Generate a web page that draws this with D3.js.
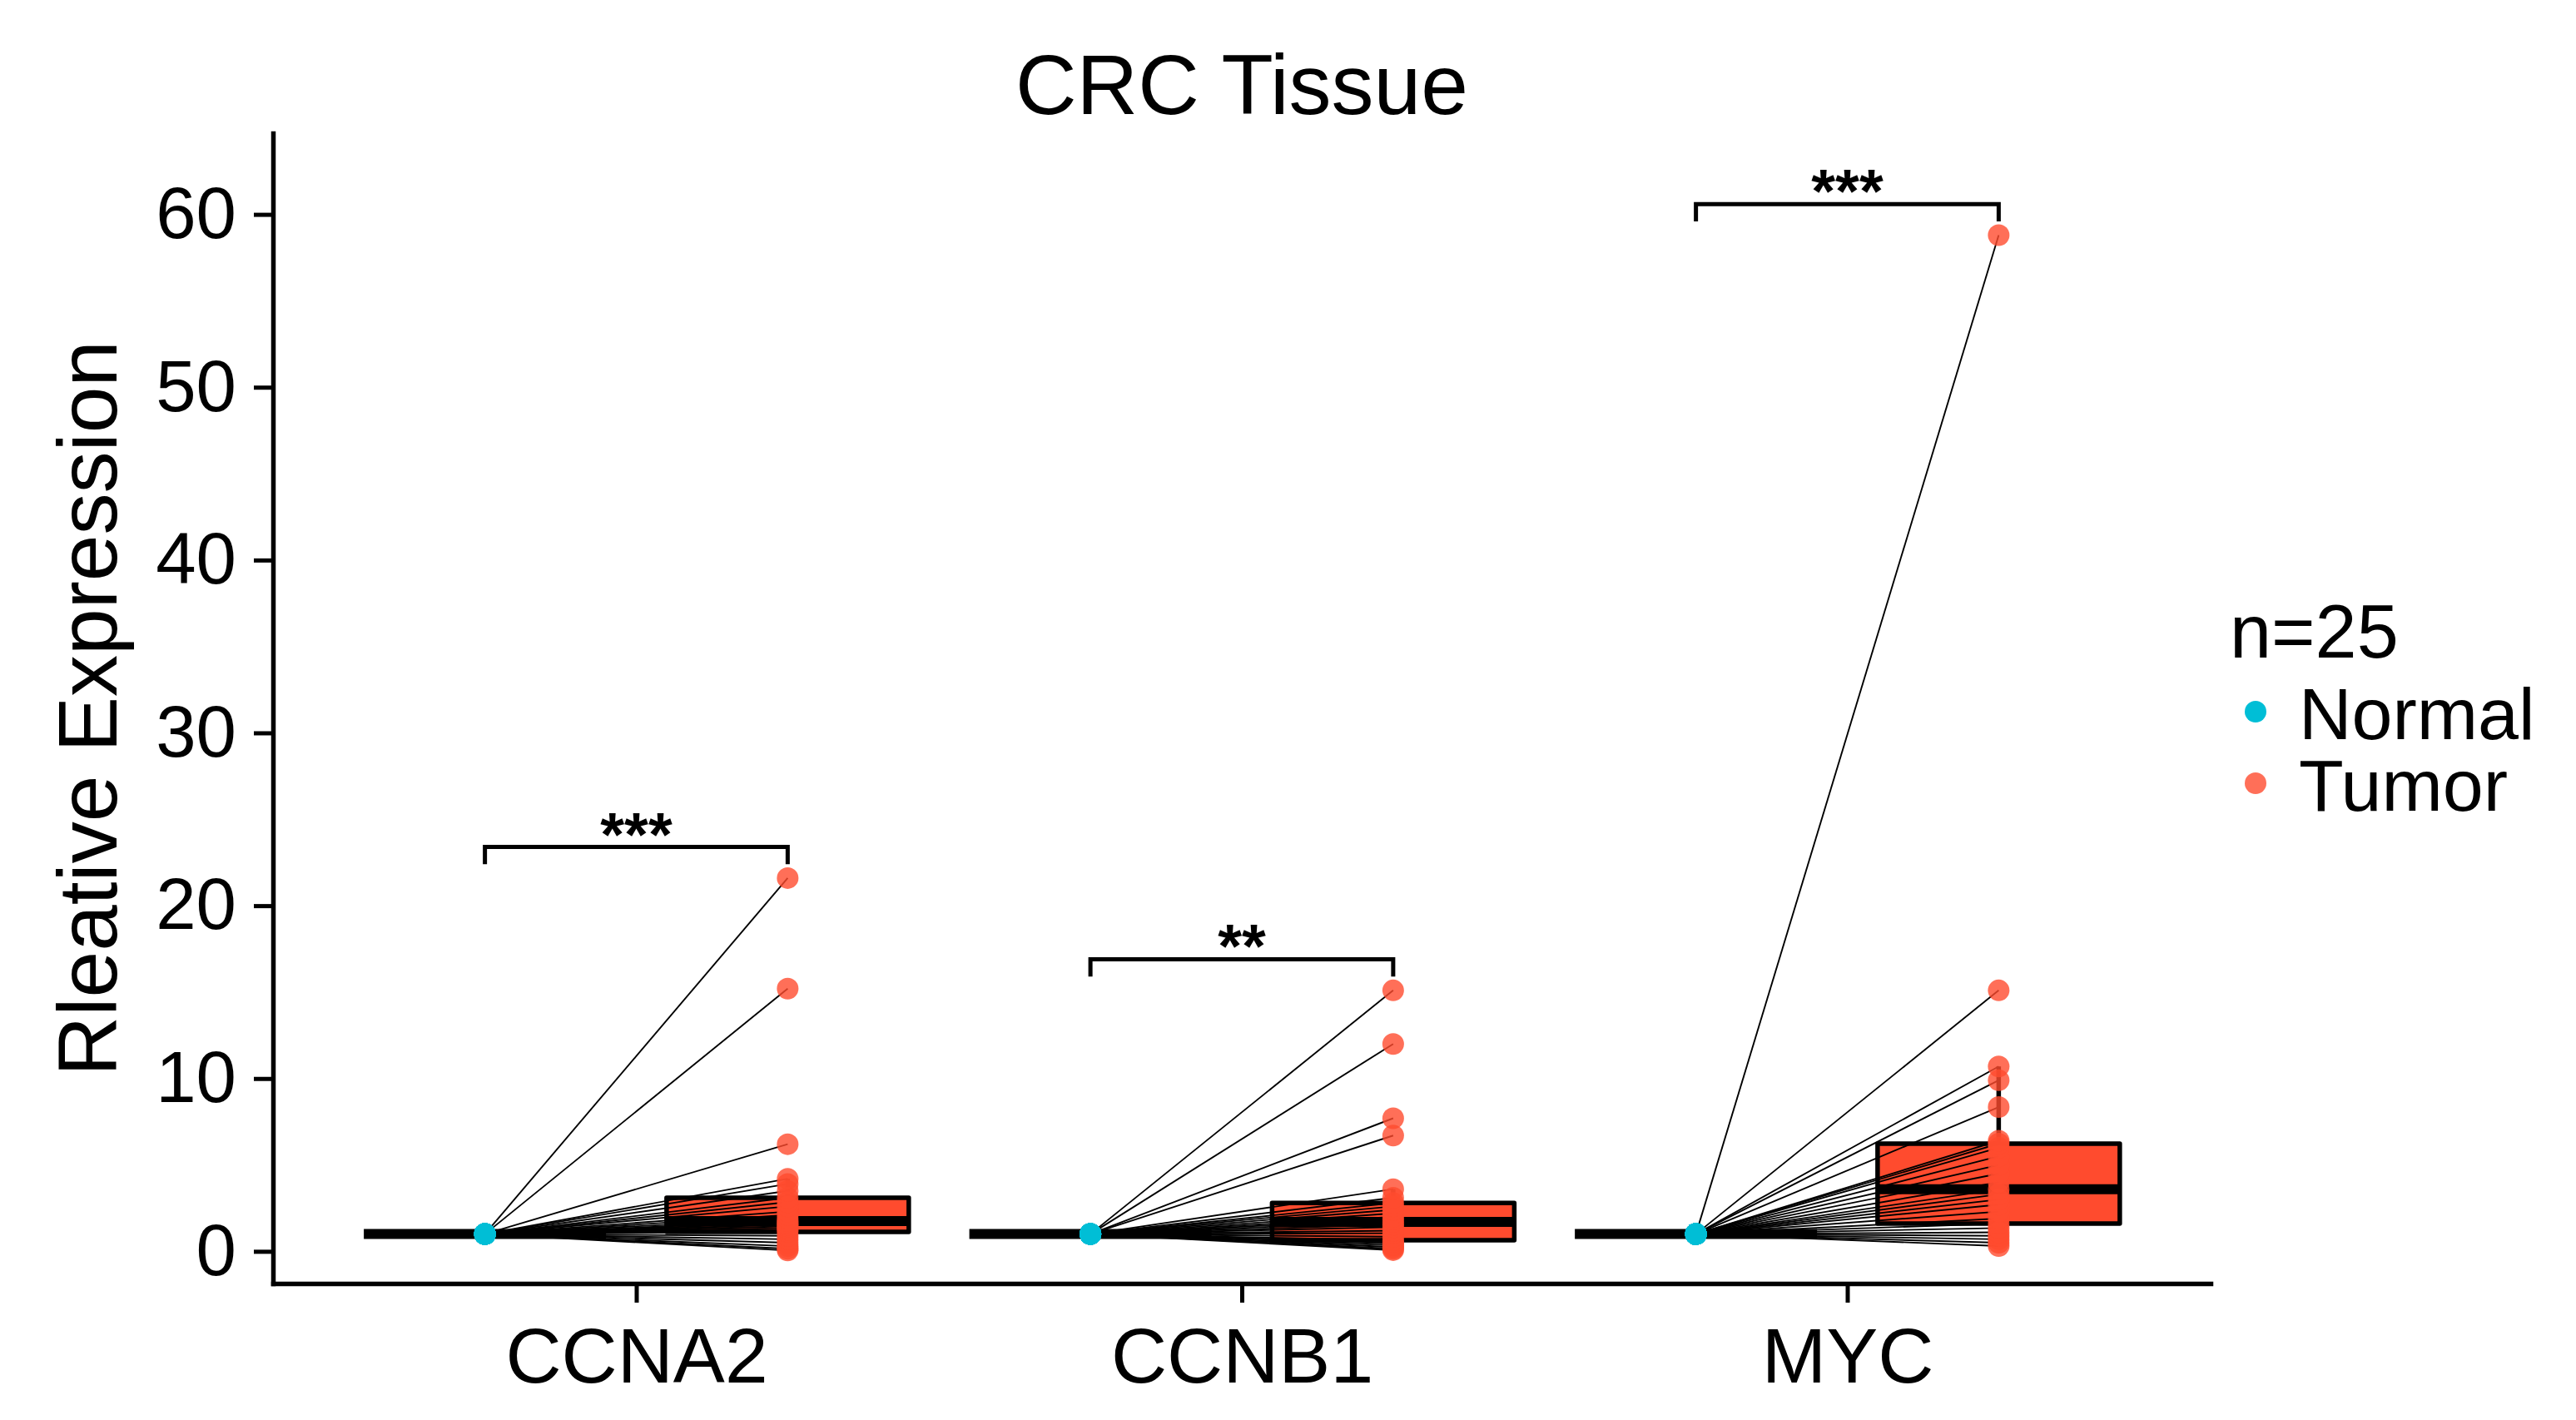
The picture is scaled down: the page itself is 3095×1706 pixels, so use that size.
<!DOCTYPE html>
<html>
<head>
<meta charset="utf-8">
<script src="https://cdn.jsdelivr.net/npm/d3@7"></script>
<style>
  body { margin: 0; background: #ffffff; }
  text { font-family: "Liberation Sans", Arial, Helvetica, sans-serif; fill: #000; }
</style>
</head>
<body>
<svg id="chart" width="3095" height="1706"></svg>
<script>
// ---------------- DATA ----------------
const genes = ["CCNA2", "CCNB1", "MYC"];
const groups = ["Normal", "Tumor"];
const yTicks = [0, 10, 20, 30, 40, 50, 60];
const sigLabels = ["***", "**", "***"];
const legendTitle = "n=25";
const chartTitle = "CRC Tissue";
const yTitle = "Rleative Expression";

const ccna2Normal = [1,1,1,1,1,1,1,1,1,1,1,1,1,1,1,1,1,1,1,1,1,1,1,1,1];
const ccna2Tumor = [0.05, 0.15, 0.3, 0.5, 0.7, 0.9, 1.13, 1.25, 1.35, 1.45, 1.55, 1.65, 1.75,
                    1.9, 2.1, 2.3, 2.6, 2.85, 3.1, 3.5, 3.9, 4.2, 6.2, 15.2, 21.6];
const ccnb1Normal = [1,1,1,1,1,1,1,1,1,1,1,1,1,1,1,1,1,1,1,1,1,1,1,1,1];
const ccnb1Tumor = [0.07, 0.15, 0.25, 0.35, 0.45, 0.55, 0.65, 0.85, 1.05, 1.2, 1.4, 1.55, 1.71,
                    1.85, 2.0, 2.2, 2.4, 2.6, 2.8, 3.1, 3.6, 6.7, 7.7, 12.0, 15.1];
const mycNormal = [1,1,1,1,1,1,1,1,1,1,1,1,1,1,1,1,1,1,1,1,1,1,1,1,1];
const mycTumor = [0.31, 0.5, 0.7, 0.9, 1.1, 1.35, 1.61, 1.9, 2.3, 2.7, 3.0, 3.3, 3.59,
                  4.0, 4.5, 5.0, 5.5, 6.0, 6.23, 6.4, 8.35, 9.9, 10.7, 15.1, 58.8];

const normalByGene = [ccna2Normal, ccnb1Normal, mycNormal];
const tumorByGene = [ccna2Tumor, ccnb1Tumor, mycTumor];

// ---------------- STYLE ----------------
const colNormal = "#00BED6";
const colTumor = "#FF4B2E";

const svg = d3.select("#chart");
svg.append("rect").attr("width", 3095).attr("height", 1706).attr("fill", "#fff");

const x = d3.scalePoint().domain(genes).range([328, 2656]).padding(0.6);
const step = x.step();
const dodge = 0.25 * step;
const boxW = 0.4 * step;
const y = d3.scaleLinear().domain([-1.86, 64.7]).range([1542, 160]);

function stats(vals) {
  const s = vals.slice().sort(d3.ascending);
  const q1 = d3.quantile(s, 0.25), med = d3.quantile(s, 0.5), q3 = d3.quantile(s, 0.75);
  const iqr = q3 - q1;
  const hi = d3.max(s.filter(v => v <= q3 + 1.5 * iqr));
  const lo = d3.min(s.filter(v => v >= q1 - 1.5 * iqr));
  return {q1, med, q3, hi, lo};
}

const gBox = svg.append("g");
const gLines = svg.append("g");
const gPts = svg.append("g");

genes.forEach((gene, gi) => {
  const xc = x(gene);
  const series = [
    {grp: "Normal", vals: normalByGene[gi], cx: xc - dodge, fill: colNormal},
    {grp: "Tumor", vals: tumorByGene[gi], cx: xc + dodge, fill: colTumor}
  ];
  series.forEach(s => {
    const st = stats(s.vals);
    const g = gBox.append("g");
    g.append("line").attr("x1", s.cx).attr("x2", s.cx)
      .attr("y1", y(st.q3)).attr("y2", y(st.hi))
      .attr("stroke", "#000").attr("stroke-width", 5.5);
    g.append("line").attr("x1", s.cx).attr("x2", s.cx)
      .attr("y1", y(st.q1)).attr("y2", y(st.lo))
      .attr("stroke", "#000").attr("stroke-width", 5.5);
    g.append("rect")
      .attr("x", s.cx - boxW / 2).attr("width", boxW)
      .attr("y", y(st.q3)).attr("height", Math.max(0, y(st.q1) - y(st.q3)))
      .attr("fill", s.fill).attr("stroke", "#000").attr("stroke-width", 5.5)
      .attr("stroke-linejoin", "round");
    g.append("line")
      .attr("x1", s.cx - boxW / 2).attr("x2", s.cx + boxW / 2)
      .attr("y1", y(st.med)).attr("y2", y(st.med))
      .attr("stroke", "#000").attr("stroke-width", 12).attr("stroke-linecap", "butt");
  });

  // paired lines
  const nv = normalByGene[gi], tv = tumorByGene[gi];
  nv.forEach((v, i) => {
    gLines.append("line")
      .attr("x1", xc - dodge).attr("y1", y(v))
      .attr("x2", xc + dodge).attr("y2", y(tv[i]))
      .attr("stroke", "#000").attr("stroke-width", 1.9);
  });

  // points
  nv.forEach(v => {
    gPts.append("circle").attr("cx", xc - dodge).attr("cy", y(v)).attr("r", 13)
      .attr("fill", colNormal).attr("fill-opacity", 0.8);
  });
  tv.forEach(v => {
    gPts.append("circle").attr("cx", xc + dodge).attr("cy", y(v)).attr("r", 13)
      .attr("fill", colTumor).attr("fill-opacity", 0.8);
  });

  // significance bracket
  const top = d3.max(tv);
  const yb = y(top + 1.8), yt = y(top + 0.8);
  svg.append("path")
    .attr("d", `M${xc - dodge},${yt}L${xc - dodge},${yb}L${xc + dodge},${yb}L${xc + dodge},${yt}`)
    .attr("fill", "none").attr("stroke", "#000").attr("stroke-width", 5);
  svg.append("text").attr("x", xc).attr("y", yb + 10)
    .attr("text-anchor", "middle").attr("font-size", 74).attr("font-weight", "bold")
    .text(sigLabels[gi]);
});

// ---------------- AXES ----------------
const yAxis = d3.axisLeft(y).tickValues(yTicks).tickSize(23).tickSizeOuter(0).tickPadding(21);
const gy = svg.append("g").attr("transform", "translate(328,0)").call(yAxis);
gy.select(".domain").attr("stroke", "#000").attr("stroke-width", 5.5).attr("stroke-linecap", "square");
gy.selectAll(".tick line").attr("stroke", "#000").attr("stroke-width", 5);
gy.selectAll(".tick text").attr("font-size", 87).attr("font-family", "Liberation Sans, Arial, sans-serif").attr("fill", "#000");

const xAxis = d3.axisBottom(x).tickSize(23).tickSizeOuter(0).tickPadding(30);
const gx = svg.append("g").attr("transform", "translate(0,1542)").call(xAxis);
gx.select(".domain").attr("stroke", "#000").attr("stroke-width", 5.5).attr("stroke-linecap", "square");
gx.selectAll(".tick line").attr("stroke", "#000").attr("stroke-width", 5);
gx.selectAll(".tick text").attr("font-size", 93).attr("font-family", "Liberation Sans, Arial, sans-serif").attr("fill", "#000");

// ---------------- TITLES ----------------
svg.append("text").attr("x", 1492).attr("y", 137).attr("text-anchor", "middle")
  .attr("font-size", 102).text(chartTitle);

svg.append("text").attr("transform", "translate(140,851) rotate(-90)")
  .attr("text-anchor", "middle").attr("font-size", 100).text(yTitle);

// ---------------- LEGEND ----------------
const lg = svg.append("g");
lg.append("text").attr("x", 2679).attr("y", 790).attr("font-size", 90).text(legendTitle);
const legendColors = [colNormal, colTumor];
const legendOpacity = [1, 0.8];
groups.forEach((grp, i) => {
  const cy = 855 + i * 86;
  lg.append("circle").attr("cx", 2710).attr("cy", cy).attr("r", 13)
    .attr("fill", legendColors[i]).attr("fill-opacity", legendOpacity[i]);
  lg.append("text").attr("x", 2762).attr("y", cy + 33).attr("font-size", 88).text(grp);
});
</script>
</body>
</html>
